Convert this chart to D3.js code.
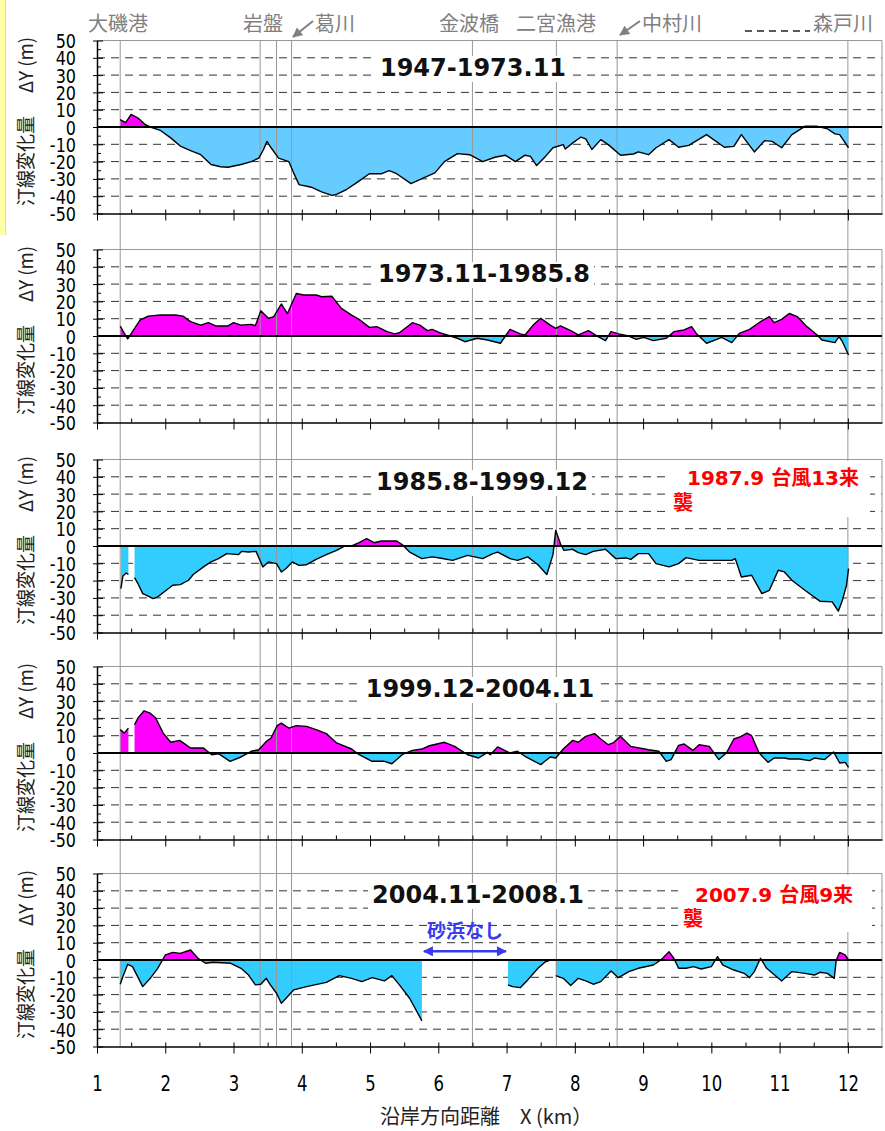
<!DOCTYPE html>
<html>
<head>
<meta charset="utf-8">
<script src="https://cdn.jsdelivr.net/npm/d3@7"></script>
<style>
  body { margin: 0; background: #fff; }
  svg { display: block; }
</style>
</head>
<body>
<svg id="chart" width="885" height="1131"></svg>
<script>
// ---- data ----
var kmTicks = [1, 2, 3, 4, 5, 6, 7, 8, 9, 10, 11, 12];
var kmMinorTicks = [1.5, 2.5, 3.5, 4.5, 5.5, 6.5, 7.5, 8.5, 9.5, 10.5, 11.5];
var dyTicks = [50, 40, 30, 20, 10, 0, -10, -20, -30, -40, -50];
var dyMinorTicks = [45, 35, 25, 15, 5, -5, -15, -25, -35, -45];
var gridValues = [40, 30, 20, 10, -10, -20, -30, -40];

var placeNames = ["大磯港", "岩盤", "葛川", "金波橋", "二宮漁港", "中村川", "森戸川"];
var landmarkKm = [1.34, 3.39, 3.63, 3.85, 6.50, 7.73, 8.62, 12.0];

var periods = ["1947-1973.11", "1973.11-1985.8", "1985.8-1999.12", "1999.12-2004.11", "2004.11-2008.1"];
var typhoonNotes = [null, null, ["1987.9 台風13来", "襲"], null, ["2007.9 台風9来", "襲"]];
var noSandNote = "砂浜なし";
var yTitleParts = ["汀線変化量", "ΔY (m)"];
var xTitle = "沿岸方向距離　X (km）";

// [km, ΔY m]; null = no data
var dy1947_1973 = [[1.34,4.2],[1.42,2.5],[1.50,7.3],[1.60,5.2],[1.71,1.3],[1.78,0],[1.93,-2],[2.08,-6.3],[2.22,-11],[2.37,-13.6],[2.52,-16],[2.67,-21.7],[2.81,-23],[2.92,-23.3],[3.11,-21.7],[3.26,-20],[3.37,-18],[3.44,-13],[3.49,-8.3],[3.55,-12],[3.66,-18],[3.81,-20],[3.88,-26.5],[3.96,-33.3],[4.14,-34.8],[4.29,-37.5],[4.44,-39.5],[4.51,-39],[4.66,-36],[4.80,-32.3],[4.99,-27],[5.17,-27],[5.28,-25.2],[5.39,-27],[5.60,-32.7],[5.76,-29.8],[5.95,-26.5],[6.09,-20],[6.28,-15.4],[6.46,-16],[6.65,-20],[6.83,-17.5],[6.98,-16.3],[7.13,-20],[7.27,-16.3],[7.35,-17],[7.44,-22.3],[7.57,-17],[7.68,-12],[7.83,-10.2],[7.86,-12.7],[7.97,-9.2],[8.09,-5.8],[8.16,-6.9],[8.25,-13],[8.38,-7.3],[8.49,-10.2],[8.67,-16.3],[8.86,-15.6],[8.93,-14.4],[9.08,-16],[9.19,-12],[9.38,-7.3],[9.52,-11.7],[9.67,-10.6],[9.93,-4.4],[10.19,-11.7],[10.33,-11.2],[10.44,-4.4],[10.63,-14.4],[10.78,-7.9],[10.89,-8.3],[11.03,-12],[11.18,-4.4],[11.37,0.4],[11.55,0.4],[11.70,-1],[11.81,-4],[11.88,-4.4],[12.01,-12]];

var dy1973_1985 = [[1.34,5.8],[1.40,1.5],[1.45,-1.7],[1.52,2.5],[1.63,9.2],[1.75,11.5],[1.93,12.1],[2.15,12.1],[2.26,11.5],[2.37,8.3],[2.52,6.3],[2.63,7.7],[2.74,5.8],[2.92,5.8],[3.00,7.7],[3.11,6.3],[3.26,6.7],[3.32,6],[3.40,14.6],[3.51,10.2],[3.59,11.2],[3.70,18.5],[3.79,13],[3.92,24.6],[4.03,23.7],[4.21,23.7],[4.29,22.7],[4.44,23],[4.58,16],[4.73,12.1],[4.84,9.6],[4.99,5],[5.10,5.4],[5.25,2.5],[5.36,1.2],[5.43,1.9],[5.62,7.7],[5.73,6.3],[5.84,3.1],[5.91,3.8],[6.02,1.9],[6.13,0.6],[6.28,-1.3],[6.39,-3.3],[6.57,-1.3],[6.72,-2.3],[6.91,-4.2],[7.05,3.8],[7.20,1.2],[7.27,0.6],[7.39,6.3],[7.50,10.2],[7.64,6.3],[7.72,4.4],[7.79,5.8],[7.94,3.1],[8.05,0.6],[8.20,3.1],[8.34,-0.4],[8.45,-2.7],[8.53,2.5],[8.64,1.2],[8.79,0],[8.90,-1.9],[9.01,-0.8],[9.15,-2.7],[9.34,-1.3],[9.45,2.5],[9.60,3.5],[9.71,5.4],[9.78,1.5],[9.93,-4.2],[10.08,-1.9],[10.15,-0.8],[10.30,-3.8],[10.41,1.5],[10.56,3.8],[10.74,8.8],[10.85,11.2],[10.92,7.7],[11.03,9.6],[11.14,13],[11.26,11.2],[11.40,5.4],[11.55,0.6],[11.62,-2.3],[11.81,-3.8],[11.87,-0.4],[11.92,-3.3],[12.01,-11]];

var dy1985_1999 = [[1.35,-24.6],[1.38,-17.3],[1.43,-15.6],[1.46,-16.5],[1.50,null],[1.55,-18.3],[1.60,-21.7],[1.67,-27.5],[1.75,-29],[1.82,-30.4],[1.89,-29.4],[2.00,-26],[2.11,-22.7],[2.22,-22.3],[2.34,-19.8],[2.41,-16.5],[2.56,-12.1],[2.67,-9.2],[2.78,-7.3],[2.90,-4.4],[3.07,-5],[3.12,-3.1],[3.22,-3.5],[3.33,-3.1],[3.43,-12.1],[3.51,-9.2],[3.63,-10.2],[3.70,-15],[3.77,-13],[3.86,-9.2],[3.96,-11.2],[4.07,-10.8],[4.21,-7.7],[4.36,-5],[4.51,-2.5],[4.62,-0.2],[4.73,0],[4.84,1.9],[4.95,4.2],[5.06,1.9],[5.17,2.9],[5.39,2.9],[5.47,0.8],[5.58,-3.5],[5.76,-7.3],[5.91,-6.3],[6.02,-6.9],[6.21,-8.3],[6.43,-5.4],[6.65,-7.3],[6.80,-4.4],[6.87,-3.5],[7.05,-7.3],[7.16,-8.3],[7.31,-6.3],[7.46,-10.8],[7.59,-16.5],[7.68,-5],[7.72,9],[7.79,1.3],[7.84,-2.5],[7.97,-1.9],[8.05,-3.8],[8.16,-5],[8.27,-3.1],[8.45,-1.9],[8.60,-7.3],[8.75,-6.9],[8.82,-7.7],[8.93,-4.4],[9.08,-4.4],[9.19,-10.2],[9.38,-12.1],[9.52,-10.2],[9.63,-6.7],[9.82,-8.3],[10.30,-8.3],[10.35,-7.3],[10.44,-17.9],[10.59,-16.9],[10.74,-27.5],[10.85,-25.6],[10.98,-14],[11.07,-15],[11.18,-19.8],[11.37,-25.6],[11.59,-31.9],[11.77,-32.3],[11.86,-37.7],[11.92,-31.3],[11.98,-22.7],[12.01,-13]];

var dy1999_2004 = [[1.34,13.5],[1.40,11.5],[1.46,14.4],[1.50,null],[1.55,16.3],[1.60,20.2],[1.69,24.4],[1.78,23],[1.86,20.2],[1.97,11.5],[2.08,6.2],[2.21,7.3],[2.30,4.8],[2.37,2.9],[2.56,2.9],[2.68,-1],[2.78,-0.4],[2.95,-4.8],[3.11,-2.3],[3.26,1],[3.37,1.9],[3.48,6.7],[3.55,8.7],[3.64,15.8],[3.70,17.3],[3.81,14.4],[3.92,15.8],[4.07,15.4],[4.21,13.5],[4.36,11.2],[4.51,5.8],[4.73,2.3],[4.84,-1],[5.03,-4.8],[5.21,-4.8],[5.32,-6.2],[5.47,-1],[5.62,1.5],[5.76,2.3],[5.87,4.2],[6.09,6.2],[6.24,3.8],[6.43,-1],[6.59,-2.9],[6.72,0.4],[6.76,-1],[6.87,3.5],[7.05,0],[7.16,1],[7.27,-1.9],[7.50,-6.7],[7.64,-2.3],[7.72,-2.9],[7.83,2.3],[7.97,7.3],[8.05,6.2],[8.16,9.6],[8.29,11.2],[8.38,8.1],[8.49,4.8],[8.56,5.8],[8.67,9.6],[8.82,3.8],[9.08,1.9],[9.23,1],[9.34,-4.8],[9.41,-3.8],[9.52,4.4],[9.60,5.2],[9.73,1.5],[9.82,4.8],[9.97,3.8],[10.11,-3.8],[10.22,0],[10.33,8.1],[10.44,9.6],[10.52,11.5],[10.59,10],[10.70,0],[10.83,-5.4],[10.92,-2.9],[11.07,-2.9],[11.14,-3.5],[11.29,-3.5],[11.44,-4.4],[11.51,-2.9],[11.66,-3.8],[11.79,0.6],[11.88,-5.8],[11.96,-5.4],[12.01,-8.3]];

var dy2004_2008 = [[1.34,-14],[1.38,-9.6],[1.45,-2.5],[1.52,-3.8],[1.67,-15.4],[1.78,-10.6],[1.89,-4.8],[2.00,2.9],[2.11,4.4],[2.22,3.8],[2.37,5.8],[2.48,1],[2.59,-1.9],[2.70,-1.3],[2.96,-1.9],[3.11,-4.8],[3.22,-8.7],[3.32,-14.4],[3.40,-14],[3.48,-10.6],[3.54,-14.4],[3.63,-19.2],[3.70,-25],[3.77,-22.1],[3.88,-17.3],[4.07,-15.4],[4.36,-12.9],[4.55,-9],[4.73,-10.6],[4.88,-12.5],[5.03,-10.2],[5.21,-12.1],[5.32,-9],[5.43,-14.4],[5.58,-22.1],[5.76,-35.2],[6.40,null],[7.02,-14.4],[7.09,-15.4],[7.20,-16],[7.31,-11.5],[7.46,-4.8],[7.57,-1],[7.64,0],[7.68,null],[7.72,-9],[7.83,-10.6],[7.94,-14.8],[8.05,-10.6],[8.16,-12.1],[8.27,-14],[8.38,-12.5],[8.53,-6.3],[8.64,-10.2],[8.79,-6.7],[8.93,-4.8],[9.15,-2.9],[9.26,0],[9.38,4.8],[9.45,1],[9.52,-4.8],[9.63,-4.8],[9.74,-3.8],[9.85,-5.2],[10.00,-3.8],[10.09,1.9],[10.17,-2.9],[10.33,-5.8],[10.48,-7.7],[10.56,-10.2],[10.63,-6.7],[10.72,1],[10.81,-4.8],[11.03,-12.1],[11.18,-6.7],[11.37,-7.7],[11.51,-8.7],[11.59,-7.1],[11.70,-7.7],[11.80,-10.6],[11.83,0],[11.88,4.4],[11.96,2.9],[12.01,0]];

var series = [dy1947_1973, dy1973_1985, dy1985_1999, dy1999_2004, dy2004_2008];

// ---- layout ----
var panelTop = [40.5, 249.5, 459.5, 666.5, 873.5],
    panelH = 173,
    titleX = [473, 484, 482, 480, 478],
    titleBaseline = [76, 282, 490, 697, 903],
    negFill = ["#66ccff", "#33ccff", "#33ccff", "#33ccff", "#33ccff"],
    posFill = "#ff00ff",
    numFont = "'DejaVu Sans', Verdana, sans-serif",
    jpFont = "'Noto Sans CJK JP', 'Noto Sans', sans-serif",
    boldFont = "'DejaVu Sans', 'Noto Sans CJK JP', sans-serif";

var placeLayout = [
  {x: 88}, {x: 243}, {x: 315, arrow: [313, 21, 293, 37]}, {x: 439},
  {x: 516}, {x: 642, arrow: [640, 21, 620, 35]}, {x: 813}
];
var noteLayout = [null, null,
  {box: [668, 461, 202, 56], lines: [[687, 485], [673, 510]]},
  null,
  {box: [678, 875, 194, 57], lines: [[695, 902], [683, 926]]}];

var x = d3.scaleLinear().domain([1, 12.5]).range([97, 882]);

var svg = d3.select("#chart");
svg.append("rect").attr("width", 885).attr("height", 1131).attr("fill", "#fff");

// little yellow strip at the left edge
svg.append("rect").attr("x", 0).attr("y", 0).attr("width", 5).attr("height", 235).attr("fill", "#ffffa6");
svg.append("line").attr("x1", 5.5).attr("x2", 5.5).attr("y1", 0).attr("y2", 235)
  .attr("stroke", "#eadf80").attr("stroke-width", 1);

var defs = svg.append("defs");
defs.append("marker").attr("id", "grayHead")
  .attr("viewBox", "0 0 10 10").attr("refX", 9).attr("refY", 5)
  .attr("markerWidth", 11).attr("markerHeight", 10)
  .attr("markerUnits", "userSpaceOnUse").attr("orient", "auto")
  .append("path").attr("d", "M0,0L10,5L0,10z").attr("fill", "#808080");
defs.append("marker").attr("id", "blueHead")
  .attr("viewBox", "0 0 10 10").attr("refX", 9).attr("refY", 5)
  .attr("markerWidth", 12).attr("markerHeight", 10)
  .attr("markerUnits", "userSpaceOnUse").attr("orient", "auto-start-reverse")
  .append("path").attr("d", "M0,0L10,5L0,10z").attr("fill", "#3a3aee");

var yScales = series.map(function(d, i) {
  return d3.scaleLinear().domain([-50, 50]).range([panelTop[i] + panelH, panelTop[i]]);
});

// pass 1: grid and filled areas
series.forEach(function(data, i) {
  var y = yScales[i];
  var g = svg.append("g");

  g.selectAll(".grid").data(gridValues).enter().append("line")
    .attr("x1", x.range()[0]).attr("x2", x.range()[1])
    .attr("y1", function(d) { return y(d); })
    .attr("y2", function(d) { return y(d); })
    .attr("stroke", "#333").attr("stroke-width", 1)
    .attr("stroke-dasharray", "8,6");

  defs.append("clipPath").attr("id", "pos" + i).append("rect")
    .attr("x", x.range()[0]).attr("y", y(50))
    .attr("width", x.range()[1] - x.range()[0]).attr("height", y(0) - y(50));
  defs.append("clipPath").attr("id", "neg" + i).append("rect")
    .attr("x", x.range()[0]).attr("y", y(0))
    .attr("width", x.range()[1] - x.range()[0]).attr("height", y(-50) - y(0));

  var area = d3.area()
    .defined(function(d) { return d[1] !== null; })
    .x(function(d) { return x(d[0]); })
    .y0(y(0))
    .y1(function(d) { return y(d[1]); });

  g.append("path").datum(data).attr("d", area)
    .attr("fill", posFill).attr("clip-path", "url(#pos" + i + ")");
  g.append("path").datum(data).attr("d", area)
    .attr("fill", negFill[i]).attr("clip-path", "url(#neg" + i + ")");
});

// landmark lines through all panels
svg.append("g").selectAll("line").data(landmarkKm).enter().append("line")
  .attr("x1", function(d) { return x(d); })
  .attr("x2", function(d) { return x(d); })
  .attr("y1", panelTop[0])
  .attr("y2", panelTop[4] + panelH)
  .attr("stroke", "#999").attr("stroke-width", 1);

// pass 2: lines, axes, titles
series.forEach(function(data, i) {
  var y = yScales[i];
  var g = svg.append("g");

  // frame (top, right)
  g.append("line").attr("x1", x.range()[0]).attr("x2", x.range()[1])
    .attr("y1", y(50)).attr("y2", y(50)).attr("stroke", "#999");
  g.append("line").attr("x1", x.range()[1]).attr("x2", x.range()[1])
    .attr("y1", y(50)).attr("y2", y(-50)).attr("stroke", "#999");

  // zero line
  g.append("line").attr("x1", x.range()[0]).attr("x2", x.range()[1])
    .attr("y1", y(0)).attr("y2", y(0)).attr("stroke", "#000").attr("stroke-width", 2);

  var line = d3.line()
    .defined(function(d) { return d[1] !== null; })
    .x(function(d) { return x(d[0]); })
    .y(function(d) { return y(d[1]); });
  g.append("path").datum(data).attr("d", line)
    .attr("fill", "none").attr("stroke", "#000").attr("stroke-width", 1.4)
    .attr("stroke-linejoin", "round");

  // y axis
  var yAxis = d3.axisLeft(y).tickValues(dyTicks).tickSize(4).tickSizeOuter(0)
    .tickFormat(function(d) { return String(d); });
  var ga = g.append("g").attr("transform", "translate(" + x.range()[0] + ",0)").call(yAxis);
  ga.select(".domain").attr("stroke", "#000").attr("stroke-width", 1.5);
  ga.selectAll(".tick line").attr("x1", 6).attr("stroke", "#000");
  ga.selectAll(".tick text")
    .attr("x", 0).attr("dy", null)
    .attr("transform", "translate(-21,7) scale(0.8,1)")
    .style("font-family", numFont).style("font-size", "20px").attr("fill", "#000");

  var gm = g.append("g").attr("transform", "translate(" + x.range()[0] + ",0)")
    .call(d3.axisLeft(y).tickValues(dyMinorTicks).tickSize(-4).tickFormat(""));
  gm.select(".domain").remove();
  gm.selectAll(".tick line").attr("stroke", "#000");

  // x axis
  var last = i === series.length - 1;
  var xAxis = d3.axisBottom(x).tickValues(kmTicks).tickSize(7).tickSizeOuter(0)
    .tickFormat(last ? function(d) { return String(d); } : "");
  var gx = g.append("g").attr("transform", "translate(0," + y(-50) + ")").call(xAxis);
  gx.select(".domain").attr("stroke", "#000").attr("stroke-width", 1.5);
  gx.selectAll(".tick line").attr("y1", -4).attr("stroke", "#000");
  gx.selectAll(".tick text")
    .attr("y", 0).attr("dy", 0)
    .attr("transform", "translate(0,44) scale(0.75,1)")
    .style("font-family", numFont).style("font-size", "22px").attr("fill", "#000");

  var gxm = g.append("g").attr("transform", "translate(0," + y(-50) + ")")
    .call(d3.axisBottom(x).tickValues(kmMinorTicks).tickSize(-4).tickFormat(""));
  gxm.select(".domain").remove();
  gxm.selectAll(".tick line").attr("stroke", "#000");

  // y title, two parts so the CJK run keeps its span
  g.append("text")
    .attr("transform", "translate(33," + (y(0) + 34) + ") rotate(-90)")
    .attr("text-anchor", "middle")
    .attr("textLength", 90).attr("lengthAdjust", "spacingAndGlyphs")
    .style("font-family", jpFont).style("font-size", "19px").attr("fill", "#222")
    .text(yTitleParts[0]);
  g.append("text")
    .attr("transform", "translate(33," + (y(0) - 62) + ") rotate(-90)")
    .attr("text-anchor", "middle")
    .attr("textLength", 56).attr("lengthAdjust", "spacingAndGlyphs")
    .style("font-family", jpFont).style("font-size", "19px").attr("fill", "#222")
    .text(yTitleParts[1]);

  // period title with white backing
  var tg = g.append("g");
  var t = tg.append("text")
    .attr("x", titleX[i]).attr("y", titleBaseline[i])
    .attr("text-anchor", "middle")
    .style("font-family", boldFont).style("font-size", "24px").style("font-weight", "bold")
    .attr("fill", "#111")
    .text(periods[i]);
  var bb = t.node().getBBox();
  tg.insert("rect", "text")
    .attr("x", bb.x - 4).attr("y", bb.y + 2)
    .attr("width", bb.width + 8).attr("height", bb.height - 2)
    .attr("fill", "#fff");

  // typhoon notes
  if (typhoonNotes[i]) {
    var nl = noteLayout[i];
    g.append("rect").attr("x", nl.box[0]).attr("y", nl.box[1])
      .attr("width", nl.box[2]).attr("height", nl.box[3]).attr("fill", "#fff");
    typhoonNotes[i].forEach(function(s, k) {
      g.append("text").attr("x", nl.lines[k][0]).attr("y", nl.lines[k][1])
        .style("font-family", boldFont).style("font-size", "20px").style("font-weight", "bold")
        .attr("fill", "#ff0000")
        .text(s);
    });
  }
});

// "no sand beach" note in the last panel
var y5 = yScales[4];
svg.append("text").attr("x", 427).attr("y", 938)
  .style("font-family", jpFont).style("font-size", "19px").style("font-weight", "bold")
  .attr("fill", "#3a3aee").text(noSandNote);
svg.append("line")
  .attr("x1", x(5.76) + 2).attr("x2", x(7.02) - 2)
  .attr("y1", y5(5)).attr("y2", y5(5))
  .attr("stroke", "#3a3aee").attr("stroke-width", 2.5)
  .attr("marker-start", "url(#blueHead)").attr("marker-end", "url(#blueHead)");

// place names along the top
var pg = svg.append("g");
placeNames.forEach(function(name, k) {
  var p = placeLayout[k];
  pg.append("text").attr("x", p.x).attr("y", 31)
    .style("font-family", jpFont).style("font-size", "20px").attr("fill", "#808080")
    .text(name);
  if (p.arrow) {
    pg.append("line")
      .attr("x1", p.arrow[0]).attr("y1", p.arrow[1])
      .attr("x2", p.arrow[2]).attr("y2", p.arrow[3])
      .attr("stroke", "#808080").attr("stroke-width", 2)
      .attr("marker-end", "url(#grayHead)");
  }
});
// remnant of a clipped label before 森戸川
pg.append("line").attr("x1", 745).attr("x2", 810).attr("y1", 31).attr("y2", 31)
  .attr("stroke", "#222").attr("stroke-width", 1.5).attr("stroke-dasharray", "7,5");

// x title
svg.append("text").attr("x", 380).attr("y", 1124)
  .style("font-family", jpFont).style("font-size", "20px").attr("fill", "#222")
  .text(xTitle);
</script>
</body>
</html>
